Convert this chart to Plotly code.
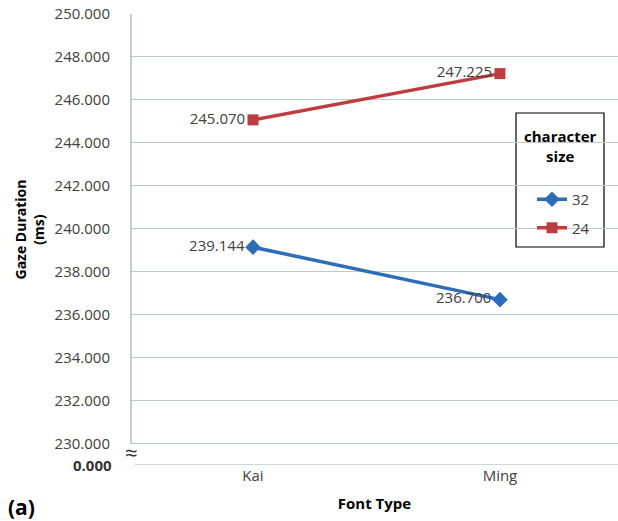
import plotly.graph_objects as go

categories = ["Kai", "Ming"]
size32 = [239.144, 236.700]
size24 = [245.070, 247.225]
series_names = ["32", "24"]
ytick_vals = [230, 232, 234, 236, 238, 240, 242, 244, 246, 248, 250]
ytick_text = ["230.000", "232.000", "234.000", "236.000", "238.000", "240.000",
              "242.000", "244.000", "246.000", "248.000", "250.000"]
break_label = "0.000"
legend_title = "character<br>size"

FONT = "Open Sans"
TXT = "#404040"
BLUE = "#2C6DB8"
RED = "#BE3B3E"
GRID = "#C3C8CB"
AXIS = "#A3ABB2"

W, H = 618, 521
L, R, T, B = 131, 0, 14, 56
PW, PH = W - L - R, H - T - B


def px(xp):
    return (xp - L) / PW


def py(yp):
    return (H - B - yp) / PH


fig = go.Figure()
fig.add_trace(go.Scatter(
    x=categories, y=size32, name=series_names[0], mode="lines+markers+text",
    legendgroup="a",
    line=dict(color=BLUE, width=3.5),
    marker=dict(symbol="diamond", size=12, color=BLUE),
    text=[f"{v:.3f}" for v in size32], textposition="middle left",
    textfont=dict(family=FONT, size=15, color=TXT),
))
fig.add_trace(go.Scatter(
    x=categories, y=size24, name=series_names[1], mode="lines+markers+text",
    legendgroup="b",
    line=dict(color=RED, width=3.5),
    marker=dict(symbol="square", size=11, color=RED),
    text=[f"{v:.3f}" for v in size24], textposition="middle left",
    textfont=dict(family=FONT, size=15, color=TXT),
))

fig.update_layout(
    width=W, height=H,
    margin=dict(l=L, r=R, t=T, b=B),
    paper_bgcolor="white", plot_bgcolor="white",
    font=dict(family=FONT, size=15, color=TXT),
    showlegend=True,
    legend=dict(
        x=px(532), y=py(183), xanchor="left", yanchor="top",
        borderwidth=0, bgcolor="rgba(0,0,0,0)",
        font=dict(family=FONT, size=15, color=TXT),
        itemwidth=30, tracegroupgap=6,
    ),
    xaxis=dict(
        type="category", range=[-0.494, 1.478], showgrid=False, zeroline=False,
        showline=False, ticks="", tickfont=dict(family=FONT, size=15, color=TXT),
        title=dict(text="<b>Font Type</b>", font=dict(family=FONT, size=15, color="black"),
                   standoff=14),
    ),
    yaxis=dict(
        range=[229, 250], tickvals=ytick_vals, ticktext=ytick_text,
        showgrid=True, gridcolor=GRID, gridwidth=1.2, zeroline=False, showline=False,
        ticks="outside", ticklen=17, tickcolor="rgba(0,0,0,0)",
        tickfont=dict(family=FONT, size=15, color=TXT),
    ),
)

# y axis line (230-250) and broken bottom axis line
fig.add_shape(type="line", xref="paper", yref="y", x0=0, x1=0, y0=230, y1=250,
              line=dict(color=AXIS, width=1.2))
fig.add_shape(type="line", xref="paper", yref="y", x0=4 / PW, x1=1, y0=229, y1=229,
              line=dict(color=AXIS, width=1.2))

# legend box and centred title
fig.add_shape(type="rect", xref="paper", yref="paper",
              x0=px(516), x1=px(604), y0=py(247), y1=py(113),
              line=dict(color="black", width=1.2), fillcolor="white", layer="below")
fig.add_annotation(xref="paper", yref="paper", x=px(560), y=py(146),
                   text="<b>" + legend_title + "</b>", showarrow=False,
                   xanchor="center", yanchor="middle", align="center",
                   font=dict(family=FONT, size=15, color="black"))

fig.add_annotation(xref="paper", yref="y", x=0, y=229, text="<b>" + break_label + "</b>",
                   showarrow=False, xanchor="right", yanchor="middle", xshift=-17,
                   font=dict(family=FONT, size=15, color="#333333"))
fig.add_annotation(xref="paper", yref="paper", x=0, y=py(452), text="≈",
                   showarrow=False, xanchor="center", yanchor="middle",
                   font=dict(family=FONT, size=22, color="#333333"))
fig.add_annotation(xref="paper", yref="paper", x=px(8), y=py(229),
                   text="<b>Gaze Duration<br>(ms)</b>", textangle=-90,
                   showarrow=False, xanchor="left", yanchor="middle",
                   font=dict(family=FONT, size=14, color="black"))
fig.add_annotation(xref="paper", yref="paper", x=px(6), y=py(507),
                   text="<b>(a)</b>", showarrow=False, xanchor="left", yanchor="middle",
                   font=dict(family=FONT, size=21, color="black"))

fig.write_html("out.html", config={"displayModeBar": False},
               post_script="document.body.style.margin='0';document.body.style.overflow='hidden';")
